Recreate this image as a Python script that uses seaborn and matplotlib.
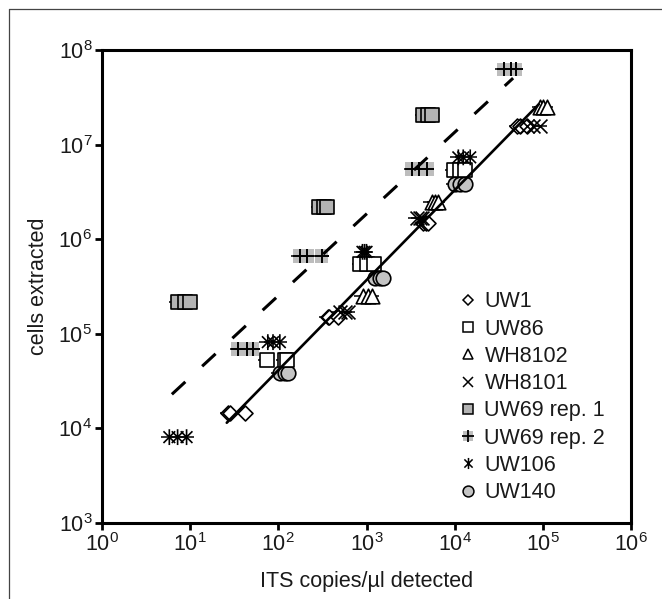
import numpy as np
import matplotlib
matplotlib.use("Agg")
import matplotlib.pyplot as plt
import seaborn as sns
from matplotlib.path import Path
from matplotlib.lines import Line2D
from matplotlib.ticker import FixedLocator, FuncFormatter, NullLocator

# --- data (ITS copies/ul detected vs cells extracted) ---
uw1_x = [27, 28, 42, 365, 380, 475, 4400, 4700, 5000, 51000, 55000, 66000]
uw1_y = [1.45e4, 1.45e4, 1.45e4, 1.5e5, 1.5e5, 1.5e5, 1.5e6, 1.5e6, 1.5e6, 1.6e7, 1.6e7, 1.6e7]

uw86_x = [74, 118, 125, 850, 1000, 1230, 9700, 11500, 13000]
uw86_y = [5.3e4, 5.3e4, 5.3e4, 5.5e5, 5.5e5, 5.5e5, 5.5e6, 5.5e6, 5.5e6]

wh8102_x = [910, 1040, 1150, 5500, 6000, 6500, 93000, 100000, 110000]
wh8102_y = [2.5e5, 2.5e5, 2.5e5, 2.5e6, 2.5e6, 2.5e6, 2.5e7, 2.5e7, 2.5e7]

wh8101_x = [500, 575, 620, 3700, 4000, 4300, 66000, 78000, 94000]
wh8101_y = [1.7e5, 1.7e5, 1.7e5, 1.7e6, 1.7e6, 1.7e6, 1.6e7, 1.6e7, 1.6e7]

uw69a_x = [7.2, 8.7, 10, 290, 330, 360, 4400, 5000, 5600]
uw69a_y = [2.2e5, 2.2e5, 2.2e5, 2.2e6, 2.2e6, 2.2e6, 2.1e7, 2.1e7, 2.1e7]

uw69b_x = [35, 44, 51, 175, 210, 310, 3300, 3900, 4900, 36000, 43000, 49000]
uw69b_y = [6.9e4, 6.9e4, 6.9e4, 6.7e5, 6.7e5, 6.7e5, 5.6e6, 5.6e6, 5.6e6, 6.3e7, 6.3e7, 6.3e7]

uw106_x = [5.8, 7.2, 9.1, 76, 87, 104, 900, 950, 1000, 11000, 12500, 15000]
uw106_y = [8.1e3, 8.1e3, 8.1e3, 8.2e4, 8.2e4, 8.2e4, 7.4e5, 7.4e5, 7.4e5, 7.4e6, 7.4e6, 7.4e6]

uw140_x = [104, 118, 128, 1250, 1420, 1540, 10000, 11500, 13000]
uw140_y = [3.9e4, 3.9e4, 3.9e4, 3.9e5, 3.9e5, 3.9e5, 3.9e6, 3.9e6, 3.9e6]

rel_err = 0.2  # horizontal error bars, fraction of value

# regression lines
fit_solid_x = [26, 9.0e4]
fit_solid_y = [1.15e4, 2.7e7]
fit_dash_x = [6.2, 4.6e4]
fit_dash_y = [2.3e4, 5.1e7]

sns.set_style("ticks")
plt.rcParams['font.family'] = ['Liberation Sans', 'DejaVu Sans']
plt.rcParams['mathtext.fontset'] = 'custom'
plt.rcParams['mathtext.rm'] = 'Liberation Sans'
FS = 15.5

star = Path([(-1, -1), (1, 1), (-1, 1), (1, -1), (0, -1.35), (0, 1.35)],
            [Path.MOVETO, Path.LINETO] * 3)

fig = plt.figure(figsize=(6.62, 5.99), dpi=100)
ax = fig.add_axes([0.1541, 0.1269, 0.7991, 0.7888])

groups = [
    # x, y, label, marker, s, face, edge
    (uw69b_x, uw69b_y, 'UW69 rep. 2', 's', 95, '#bdbdbd', 'none'),
    (uw69a_x, uw69a_y, 'UW69 rep. 1', 's', 92, '#b3b3b3', 'black'),
    (uw140_x, uw140_y, 'UW140', 'o', 110, '#c4c4c4', 'black'),
    (uw86_x, uw86_y, 'UW86', 's', 92, 'white', 'black'),
    (wh8102_x, wh8102_y, 'WH8102', '^', 110, 'white', 'black'),
    (uw1_x, uw1_y, 'UW1', 'D', 58, 'white', 'black'),
    (wh8101_x, wh8101_y, 'WH8101', 'x', 100, 'none', 'black'),
    (uw106_x, uw106_y, 'UW106', star, 130, 'none', 'black'),
]

for x, y, lab, m, s, fc, ec in groups:
    x = np.array(x)
    ax.errorbar(x, y, xerr=x * rel_err, fmt='none', ecolor='black',
                elinewidth=1.1, capsize=0, zorder=2)
    if m == 'x':
        sns.scatterplot(x=x, y=y, marker=m, s=s, color='black',
                        linewidth=1.2, ax=ax, zorder=3)
    else:
        sns.scatterplot(x=x, y=y, marker=m, s=s, facecolor=fc, edgecolor=ec,
                        linewidth=1.2, ax=ax, zorder=3)
    if lab == 'UW69 rep. 2':
        sns.scatterplot(x=x, y=y, marker='+', s=115, color='black',
                        linewidth=1.4, ax=ax, zorder=3)

ax.plot(fit_solid_x, fit_solid_y, color='black', lw=1.9, zorder=4)
ax.plot(fit_dash_x, fit_dash_y, color='black', lw=2.2, dashes=(6, 7.5), zorder=4)

ax.set_xscale('log')
ax.set_yscale('log')
ax.set_xlim(1, 1e6)
ax.set_ylim(1e3, 1e8)

fmt = FuncFormatter(lambda v, p: r'$\mathregular{10^{%d}}$' % round(np.log10(v)))
ax.xaxis.set_major_locator(FixedLocator([10.0 ** k for k in range(0, 7)]))
ax.yaxis.set_major_locator(FixedLocator([10.0 ** k for k in range(3, 9)]))
ax.xaxis.set_minor_locator(NullLocator())
ax.yaxis.set_minor_locator(NullLocator())
ax.xaxis.set_major_formatter(fmt)
ax.yaxis.set_major_formatter(fmt)
ax.tick_params(axis='both', which='major', direction='out', length=5, width=2,
               labelsize=FS, pad=2, color='black', labelcolor='#1a1a1a')
for sp in ax.spines.values():
    sp.set_linewidth(2.2)
    sp.set_color('black')

ax.set_xlabel('ITS copies/µl detected', fontsize=FS, labelpad=11, color='#1a1a1a')
ax.set_ylabel('cells extracted', fontsize=FS, labelpad=7, color='#1a1a1a')

# legend
def h(marker, ms, fc, ec, mew=1.1):
    return Line2D([], [], ls='none', marker=marker, markersize=ms,
                  markerfacecolor=fc, markeredgecolor=ec, markeredgewidth=mew)

handles = [
    h('D', 5.0, 'white', 'black'),
    h('s', 7.2, 'white', 'black'),
    h('^', 7.5, 'white', 'black'),
    h('x', 7.0, 'black', 'black'),
    h('s', 7.2, '#b3b3b3', 'black'),
    (h('s', 7.0, '#bdbdbd', 'none'), h('+', 8.0, 'black', 'black', 1.3)),
    h(star, 8.0, 'black', 'black'),
    h('o', 7.8, '#c4c4c4', 'black'),
]
labels = ['UW1', 'UW86', 'WH8102', 'WH8101', 'UW69 rep. 1', 'UW69 rep. 2',
          'UW106', 'UW140']
ax.legend(handles, labels, loc='upper left', bbox_to_anchor=(0.672, 0.49),
          frameon=False, fontsize=FS, handlelength=1.0, handletextpad=0.25,
          labelspacing=0.29, borderpad=0, borderaxespad=0,
          labelcolor='#1a1a1a')

# outer frame of the panel
fig.add_artist(Line2D([9 / 662, 9 / 662], [0, 1 - 9 / 599], transform=fig.transFigure,
                      color='#444444', lw=0.9))
fig.add_artist(Line2D([9 / 662, 1], [1 - 9 / 599, 1 - 9 / 599], transform=fig.transFigure,
                      color='#444444', lw=0.9))

fig.savefig('out.png', dpi=100)
